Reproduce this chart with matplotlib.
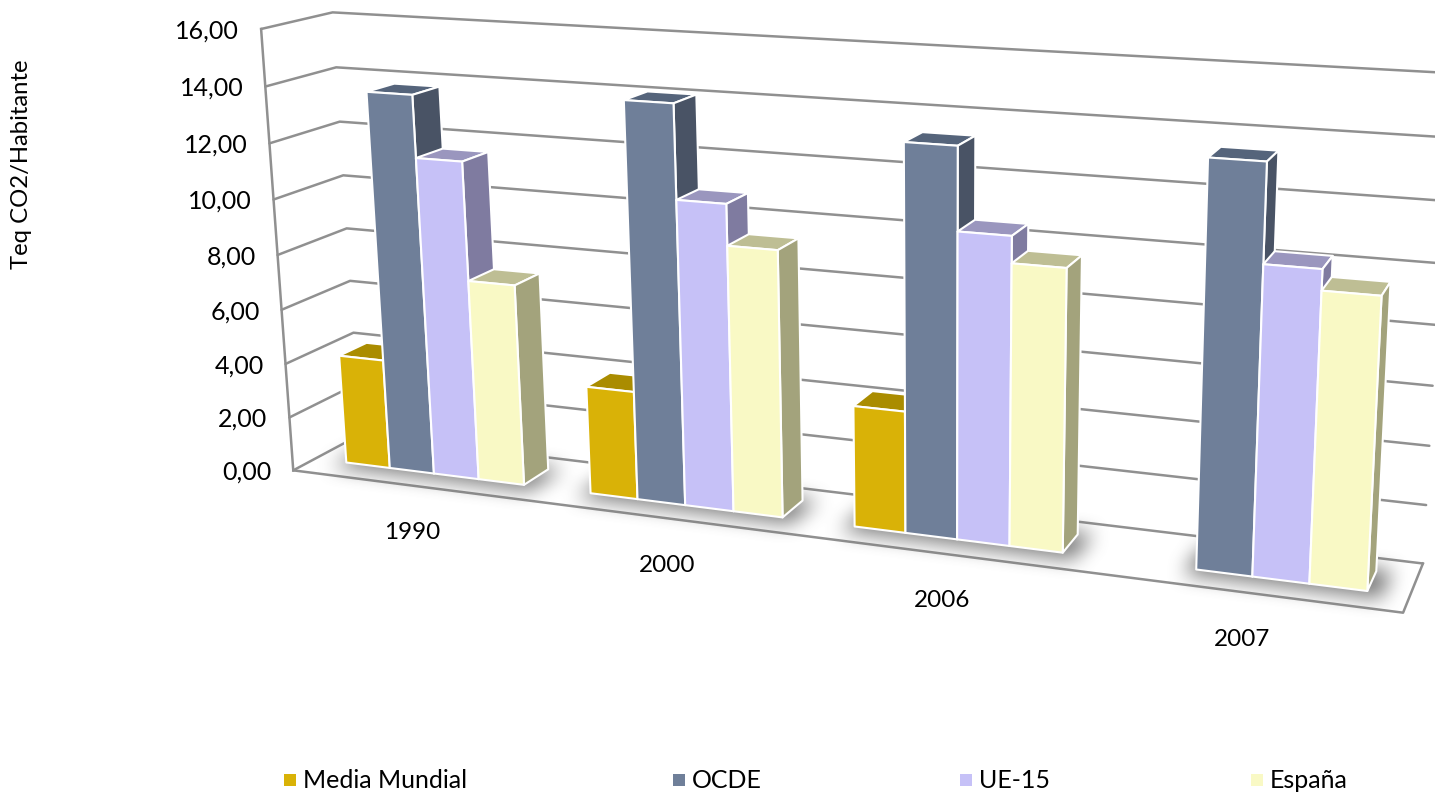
import numpy as np
import matplotlib
matplotlib.use("Agg")
from matplotlib import pyplot as plt
from matplotlib.path import Path
from matplotlib.patches import Polygon, Rectangle

plt.rcParams['font.family'] = ['Lato', 'DejaVu Sans']

years = ["1990", "2000", "2006", "2007"]
series = ["Media Mundial", "OCDE", "UE-15", "España"]
media_mundial = [4.05, 3.9, 4.25, np.nan]
ocde = [13.77, 14.07, 13.3, 13.47]
ue15 = [11.55, 10.8, 10.5, 10.25]
espana = [7.3, 9.37, 9.6, 9.57]
values = [media_mundial, ocde, ue15, espana]
ticks = [0, 2, 4, 6, 8, 10, 12, 14, 16]

# front, top and side colour of every series
front = ["#D9B207", "#6F7F99", "#C6C1F7", "#F9F9C5"]
top = ["#AA8C00", "#55647B", "#9A96BE", "#BEBE94"]
side = ["#8C7400", "#495365", "#7F7BA0", "#A3A37C"]
grid_col = "#909090"

gap = 0.265
z0, z1 = 0.32, 0.73

# box corners (category, value, depth) and where they land in the picture
box = [(0, 0, 0), (0, 16, 0), (0, 0, 1), (0, 16, 1), (4, 0, 0), (4, 0, 1), (4, 16, 1), (0, 4, 0), (0, 4, 1), (4, 4, 1)]
pix = [(291, 471), (262, 29), (361, 436), (331, 13), (1403, 613), (1423, 563), (1450, 73), (287, 363), (354, 331), (1429, 446)]


def fit_camera(box, pix):
    rows = []
    for (x, y, z), (u, v) in zip(box, pix):
        rows.append([x, y, z, 1, 0, 0, 0, 0, -u * x, -u * y, -u * z, -u])
        rows.append([0, 0, 0, 0, x, y, z, 1, -v * x, -v * y, -v * z, -v])
    return np.linalg.svd(np.array(rows, dtype=float))[2][-1].reshape(3, 4)


cam = fit_camera(box, pix)


def project(x, y, z):
    p = cam @ np.array([x, y, z, 1.0])
    return p[0] / p[2], p[1] / p[2]


def blurred(mask, size):
    kernel = np.hanning(size)
    kernel = kernel / kernel.sum()
    mask = np.apply_along_axis(lambda r: np.convolve(r, kernel, mode="same"), 1, mask)
    mask = np.apply_along_axis(lambda r: np.convolve(r, kernel, mode="same"), 0, mask)
    return mask


W, H = 1435, 794
fig = plt.figure(figsize=(W / 100, H / 100), dpi=100)
ax = fig.add_axes([0, 0, 1, 1])
ax.set_xlim(0, W)
ax.set_ylim(H, 0)
ax.axis("off")

# walls and floor
for t in ticks:
    pts = [project(0, t, 0), project(0, t, 1), project(4, t, 1)]
    ax.plot(*zip(*pts), color=grid_col, lw=1.8, solid_capstyle="round", zorder=1)
    x, y = project(0, t, 0)
    ax.text(x - 22, y + 2, "%d,00" % t, ha="right", va="center", fontsize=18, color="black")
ax.plot(*zip(project(0, 0, 0), project(0, 16, 0)), color=grid_col, lw=1.8, zorder=1)
ax.plot(*zip(project(0, 0, 0), project(4, 0, 0), project(4, 0, 1)), color=grid_col, lw=1.8, zorder=1)

# soft shadow under the bars
gx, gy = np.meshgrid(np.arange(W) + 0.5, np.arange(H) + 0.5)
grid = np.column_stack([gx.ravel(), gy.ravel()])
mask = np.zeros((H, W))
bar_w = (1 - gap) / 4
for i in range(len(years)):
    drawn = [s for s in range(4) if not np.isnan(values[s][i])]
    x0 = i + gap / 2 + drawn[0] * bar_w
    x1 = i + gap / 2 + 4 * bar_w
    foot = [project(x0 - 0.03, 0, z0 - 0.12), project(x1 + 0.05, 0, z0 - 0.12),
            project(x1 + 0.05, 0, z1 + 0.05), project(x0 - 0.03, 0, z1 + 0.05)]
    mask[Path(foot).contains_points(grid).reshape(H, W)] = 1
shade = blurred(mask, 51)
rgba = np.zeros((H, W, 4))
rgba[..., :3] = 0.4
rgba[..., 3] = shade * 0.85
ax.imshow(rgba, extent=(0, W, H, 0), zorder=2, interpolation="bilinear", aspect="auto")
ax.set_xlim(0, W)
ax.set_ylim(H, 0)

# bars, back left to front right
z = 3
for i in range(len(years)):
    for s in range(4):
        v = values[s][i]
        if np.isnan(v):
            continue
        a = i + gap / 2 + s * bar_w
        b = a + bar_w
        faces = [
            ([(a, v, z0), (b, v, z0), (b, v, z1), (a, v, z1)], top[s]),
            ([(b, 0, z0), (b, v, z0), (b, v, z1), (b, 0, z1)], side[s]),
            ([(a, 0, z0), (b, 0, z0), (b, v, z0), (a, v, z0)], front[s]),
        ]
        for corners, col in faces:
            ax.add_patch(Polygon([project(*c) for c in corners], closed=True, facecolor=col,
                                 edgecolor="white", lw=1.5, joinstyle="round", zorder=z))
            z += 0.01

# category labels
for i, year in enumerate(years):
    x, y = project(i + 0.5, 0, 0)
    ax.text(x - 1, y + 47, year, ha="center", va="center", fontsize=17.5, color="black")

ax.text(22, 164, "Teq CO2/Habitante", rotation=90, ha="center", va="center", fontsize=17.2, color="black")

# legend
legend_x = [284, 673, 960, 1251]
for name, col, lx in zip(series, front, legend_x):
    ax.add_patch(Rectangle((lx, 774), 12, 12, facecolor=col, edgecolor="none", zorder=5))
    ax.text(lx + 19, 780, name, ha="left", va="center", fontsize=18, color="black")

fig.savefig("out.png", dpi=100)
